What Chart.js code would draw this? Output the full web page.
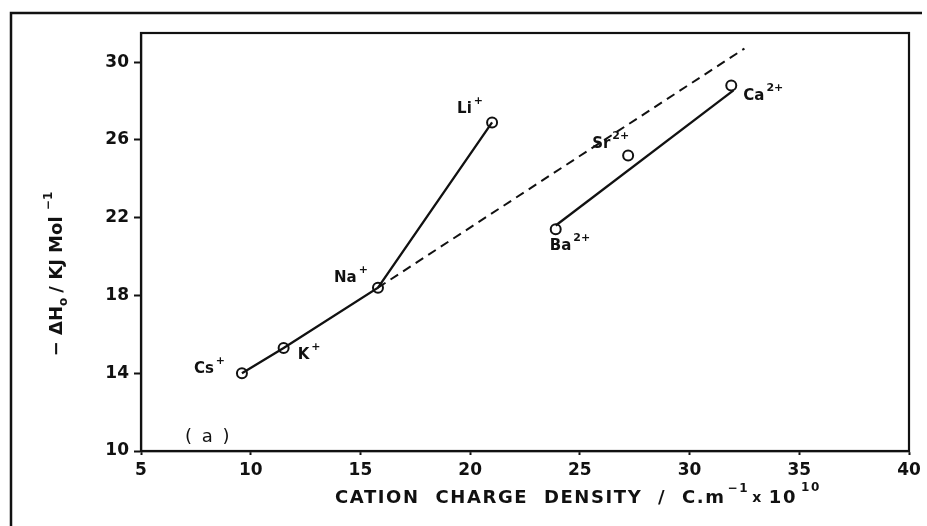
<!DOCTYPE html>
<html>
<head>
<meta charset="utf-8">
<script src="https://cdn.jsdelivr.net/npm/chart.js@4/dist/chart.umd.min.js"></script>
<style>
  body { margin: 0; background: #fff; }
  canvas { display: block; }
</style>
</head>
<body>
<canvas id="chart" width="927" height="526"></canvas>
<script>
// alkali metal cations
const alkaliIons = ['Cs', 'K', 'Na', 'Li'];
const alkaliDensity = [9.6, 11.5, 15.8, 21.0];
const alkaliEnthalpy = [14.0, 15.3, 18.4, 26.9];

// alkaline earth cations
const earthIons = ['Ba', 'Sr', 'Ca'];
const earthDensity = [23.9, 27.2, 31.9];
const earthEnthalpy = [21.4, 25.2, 28.8];

// straight line through the 2+ ions
const earthFitDensity = [23.9, 32.0];
const earthFitEnthalpy = [21.6, 28.55];

// dashed extrapolation from Na+
const trendDensity = [15.8, 32.5];
const trendEnthalpy = [18.4, 30.7];

const xTicks = [5, 10, 15, 20, 25, 30, 35, 40];
const yTicks = [10, 14, 18, 22, 26, 30];

const FONT = 'DejaVu Sans';
const INK = '#111';

function pts(xs, ys) {
    return xs.map((x, i) => ({ x: x, y: ys[i] }));
}

// where each ion's name sits relative to its marker (text left, baseline)
const labelOffsets = {
    Cs: [-48, 0], K: [14, 11], Na: [-44, -6], Li: [-35, -9],
    Ba: [-6, 21], Sr: [-36, -7], Ca: [12, 15]
};

function ionLabel(ctx, x, y, name, charge) {
    ctx.font = 'bold 15px ' + FONT;
    ctx.textAlign = 'left';
    ctx.textBaseline = 'alphabetic';
    ctx.fillText(name, x, y);
    const w = ctx.measureText(name).width;
    ctx.font = 'bold 11px ' + FONT;
    ctx.fillText(charge, x + w + 2, y - 9);
}

// draws text pieces one after another; raised pieces are superscripts/subscripts
function runText(ctx, x, y, parts) {
    let cx = x;
    parts.forEach(p => {
        ctx.font = p.font;
        ctx.fillText(p.t, cx, y + (p.dy || 0));
        cx += ctx.measureText(p.t).width + (p.gap || 0);
    });
    return cx - x;
}

const decorations = {
    id: 'decorations',
    beforeDraw(chart) {
        const ctx = chart.ctx;
        ctx.save();
        ctx.fillStyle = '#fff';
        ctx.fillRect(0, 0, chart.width, chart.height);
        ctx.restore();
    },
    afterDraw(chart) {
        const ctx = chart.ctx;
        const a = chart.chartArea;
        const xs = chart.scales.x, ys = chart.scales.y;
        ctx.save();
        ctx.strokeStyle = INK;
        ctx.fillStyle = INK;

        // outer frame
        ctx.lineWidth = 2.5;
        ctx.beginPath();
        ctx.moveTo(11, chart.height);
        ctx.lineTo(11, 13);
        ctx.lineTo(922, 13);
        ctx.stroke();

        // box round the plot
        ctx.lineWidth = 2.2;
        ctx.strokeRect(a.left, a.top, a.right - a.left, a.bottom - a.top);

        // ion names
        alkaliIons.forEach((n, i) => {
            const o = labelOffsets[n];
            ionLabel(ctx, xs.getPixelForValue(alkaliDensity[i]) + o[0],
                ys.getPixelForValue(alkaliEnthalpy[i]) + o[1], n, '+');
        });
        earthIons.forEach((n, i) => {
            const o = labelOffsets[n];
            ionLabel(ctx, xs.getPixelForValue(earthDensity[i]) + o[0],
                ys.getPixelForValue(earthEnthalpy[i]) + o[1], n, '2+');
        });

        // panel tag
        ctx.font = '18px ' + FONT;
        ctx.textBaseline = 'middle';
        ctx.letterSpacing = '2px';
        ctx.fillText('( a )', 185, 437);

        // x axis title
        const big = 'bold 18px ' + FONT, small = 'bold 12px ' + FONT;
        ctx.letterSpacing = '1.6px';
        runText(ctx, 335, 498, [
            { t: 'CATION  CHARGE  DENSITY  /  C.m', font: big, gap: 2 },
            { t: '\u22121', font: small, dy: -9, gap: 3 },
            { t: 'x', font: 'bold 14px ' + FONT, gap: 6 },
            { t: '10', font: big, gap: 4 },
            { t: '10', font: small, dy: -10 }
        ]);

        // y axis title, reading upwards
        ctx.letterSpacing = '0px';
        ctx.translate(62, 274);
        ctx.rotate(-Math.PI / 2);
        ctx.textBaseline = 'alphabetic';
        const yParts = [
            { t: '\u2212 \u0394H', font: big },
            { t: 'o', font: small, dy: 5, gap: 5 },
            { t: '/ KJ Mol ', font: big },
            { t: '\u22121', font: small, dy: -10 }
        ];
        ctx.globalAlpha = 0;
        const w = runText(ctx, 0, 0, yParts);
        ctx.globalAlpha = 1;
        runText(ctx, -w / 2, 0, yParts);
        ctx.restore();
    }
};

new Chart(document.getElementById('chart'), {
    type: 'scatter',
    data: {
        datasets: [
            {
                // alkali metals joined point to point
                data: pts(alkaliDensity, alkaliEnthalpy),
                showLine: true,
                borderColor: INK,
                borderWidth: 2.3,
                pointRadius: 5,
                pointBorderWidth: 2,
                pointBorderColor: INK,
                pointBackgroundColor: 'rgba(0,0,0,0)'
            },
            {
                data: pts(earthDensity, earthEnthalpy),
                showLine: false,
                pointRadius: 5,
                pointBorderWidth: 2,
                pointBorderColor: INK,
                pointBackgroundColor: 'rgba(0,0,0,0)'
            },
            {
                data: pts(earthFitDensity, earthFitEnthalpy),
                showLine: true,
                borderColor: INK,
                borderWidth: 2.3,
                pointRadius: 0
            },
            {
                data: pts(trendDensity, trendEnthalpy),
                showLine: true,
                borderColor: INK,
                borderWidth: 2,
                borderDash: [9, 6],
                pointRadius: 0
            }
        ]
    },
    options: {
        responsive: false,
        animation: false,
        layout: { padding: { left: 0, top: 33, right: 18, bottom: 0 } },
        plugins: {
            legend: { display: false },
            tooltip: { enabled: false }
        },
        scales: {
            x: {
                type: 'linear',
                min: 5,
                max: 40,
                afterBuildTicks: s => { s.ticks = xTicks.map(v => ({ value: v })); },
                afterFit: s => { s.height = 75; },
                grid: { drawOnChartArea: false, drawTicks: true, tickLength: 4, tickWidth: 2, tickColor: INK },
                border: { display: true, color: INK, width: 2.2 },
                ticks: { color: INK, padding: 5, maxRotation: 0, font: { family: FONT, size: 17, weight: 'bold' } }
            },
            y: {
                type: 'linear',
                min: 10,
                max: 31.5,
                afterBuildTicks: s => { s.ticks = yTicks.map(v => ({ value: v })); },
                afterFit: s => { s.width = 141; },
                grid: { drawOnChartArea: false, drawTicks: true, tickLength: 7, tickWidth: 2, tickColor: INK },
                border: { display: true, color: INK, width: 2.2 },
                ticks: { color: INK, padding: 5, font: { family: FONT, size: 17, weight: 'bold' } }
            }
        }
    },
    plugins: [decorations]
});
</script>
</body>
</html>
